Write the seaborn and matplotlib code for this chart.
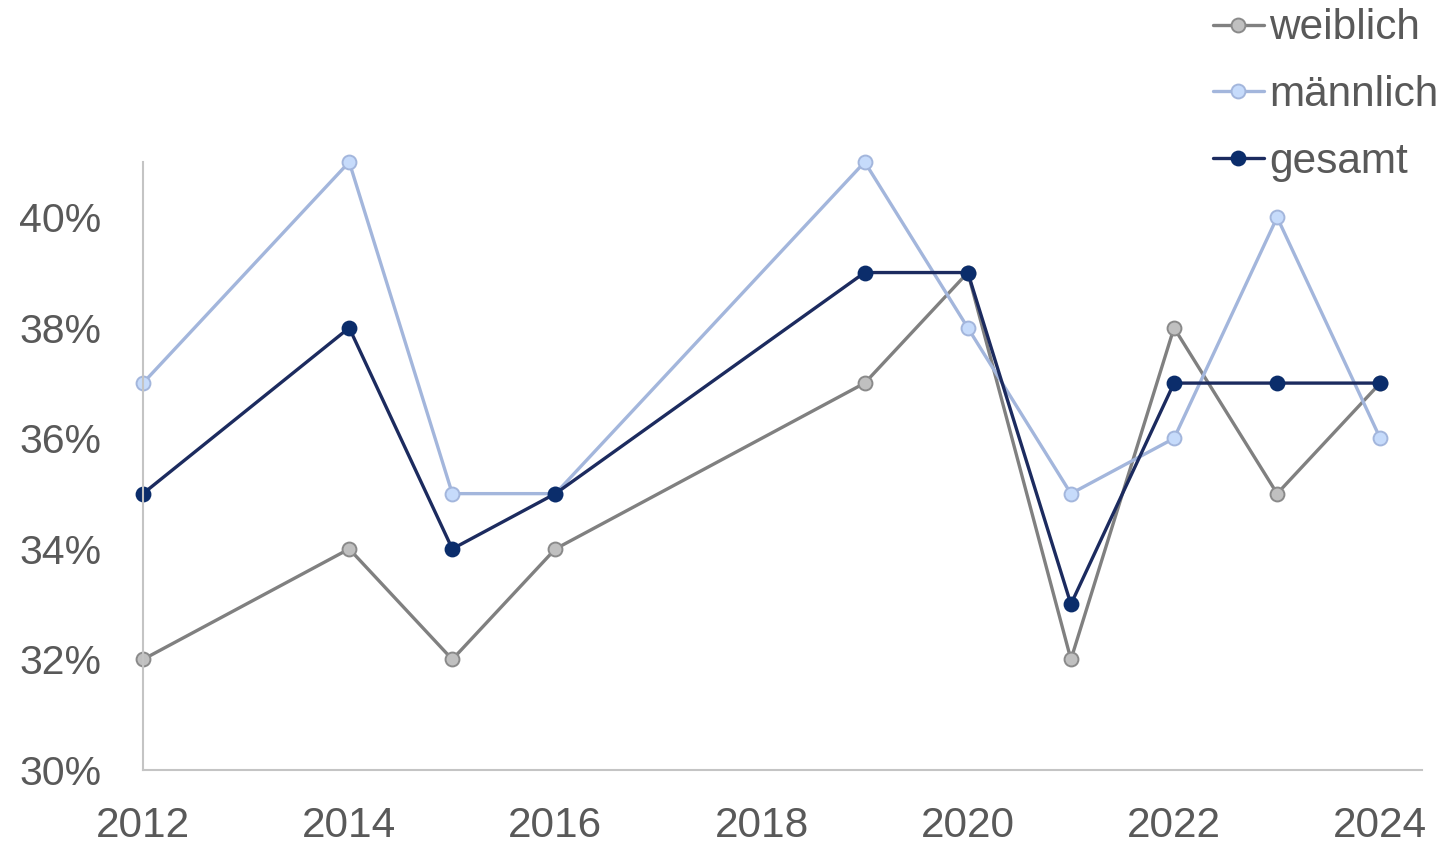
import matplotlib
matplotlib.use("Agg")
import matplotlib.pyplot as plt
import seaborn as sns
import pandas as pd
from matplotlib.ticker import FuncFormatter

years = [2012, 2014, 2015, 2016, 2019, 2020, 2021, 2022, 2023, 2024]
weiblich = [32, 34, 32, 34, 37, 39, 32, 38, 35, 37]
maennlich = [37, 41, 35, 35, 41, 38, 35, 36, 40, 36]
gesamt = [35, 38, 34, 35, 39, 39, 33, 37, 37, 37]
series_names = ["weiblich", "männlich", "gesamt"]
x_ticks = [2012, 2014, 2016, 2018, 2020, 2022, 2024]
y_ticks = [30, 32, 34, 36, 38, 40]

sns.set_theme(style="white")
plt.rcParams["font.family"] = ["Liberation Sans", "DejaVu Sans"]

fig = plt.figure(figsize=(14.42, 8.46), dpi=100)
ax = fig.add_axes([143 / 1442, 1 - 770 / 846, (1422 - 143) / 1442, (770 - 162) / 846])

styles = [
    dict(color="#808080", markerfacecolor="#c0c0c0", markeredgecolor="#8a8a8a"),
    dict(color="#a3b6dc", markerfacecolor="#c6dbfb", markeredgecolor="#a3b6dc"),
    dict(color="#1c2b5f", markerfacecolor="#0b2d6b", markeredgecolor="#0b2d6b"),
]
for name, vals, st in zip(series_names, [weiblich, maennlich, gesamt], styles):
    df = pd.DataFrame({"Jahr": years, "Wert": vals})
    sns.lineplot(data=df, x="Jahr", y="Wert", ax=ax, label=name, marker="o",
                 markersize=10, markeredgewidth=1.4, linewidth=2.4, clip_on=False,
                 **st)

ax.set_xlim(2012, 2024.405)
ax.set_ylim(30, 41)
ax.set_xticks(x_ticks)
ax.set_yticks(y_ticks)
ax.yaxis.set_major_formatter(FuncFormatter(lambda v, p: f"{v:.0f}%"))
ax.set_xlabel("")
ax.set_ylabel("")
ax.tick_params(axis="both", length=0, labelcolor="#595959")
ax.tick_params(axis="y", pad=30, labelsize=29.5)
ax.tick_params(axis="x", pad=26, labelsize=30.5)
for s in ["top", "right"]:
    ax.spines[s].set_visible(False)
for s in ["left", "bottom"]:
    ax.spines[s].set_color("#c4c4c4")
    ax.spines[s].set_linewidth(1.5)
ax.grid(False)

ax.get_legend().remove()
h, l = ax.get_legend_handles_labels()
leg = fig.legend(h, l, loc="upper right", bbox_to_anchor=(1.009, 1.01),
                 frameon=False, fontsize=30.5, handlelength=1.2, handletextpad=0.12,
                 labelspacing=0.63, borderaxespad=0)
for t in leg.get_texts():
    t.set_color("#595959")

fig.savefig("out.png", dpi=100)
